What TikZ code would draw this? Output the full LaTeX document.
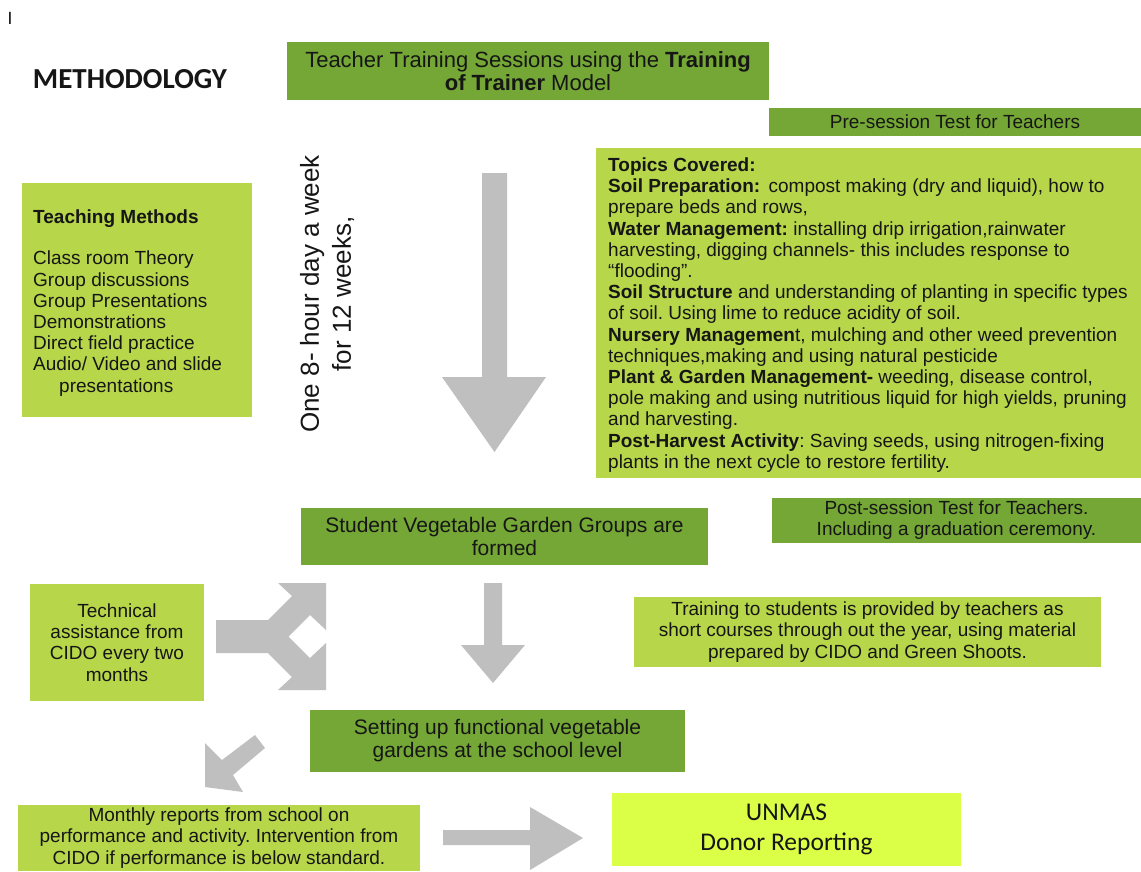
\documentclass[tikz,border=0pt]{standalone}
\usepackage{fontspec}
\setmainfont{Liberation Sans}
\newfontfamily\calibri{Carlito}
\definecolor{boxdark}{RGB}{116,167,53}
\definecolor{boxlight}{RGB}{183,214,74}
\definecolor{boxyellow}{RGB}{219,255,70}
\definecolor{arrowgrey}{RGB}{191,191,191}
\definecolor{ink}{RGB}{22,22,22}
\frenchspacing
\begin{document}
\begin{tikzpicture}[x=1pt,y=-1pt,
  box/.style={rectangle,inner sep=0pt,text=ink,align=center},
  darkbox/.style={box,fill=boxdark},
  lightbox/.style={box,fill=boxlight},
  yellowbox/.style={box,fill=boxyellow},
  txt/.style={font=\fontsize{19}{21.2}\selectfont},
  bigtxt/.style={font=\fontsize{21}{23}\selectfont},
  blockarrow/.style={fill=arrowgrey}]
\useasboundingbox (0,0) rectangle (1141,871);
\fill[white] (0,0) rectangle (1141,871);

% headings
\node[text=ink,font=\calibri\fontsize{19}{19}\selectfont,inner sep=0pt] (cursor) at (10,18) {I};
\node[text=ink,font=\calibri\bfseries\fontsize{29}{29}\selectfont,inner sep=0pt] (title) at (130,79.5) {METHODOLOGY};

% boxes
\node[darkbox,minimum width=482,minimum height=58,font=\fontsize{22}{23.5}\selectfont] (training) at (528,71)
  {Teacher Training Sessions using the \textbf{Training}\\\textbf{of Trainer} Model};
\node[darkbox,txt,minimum width=372,minimum height=28] (pretest) at (955,122) {Pre-session Test for Teachers};

\node[lightbox,minimum width=545,minimum height=330] (topics) at (868.5,313) {};
\node[txt,text=ink,align=left,anchor=west,inner sep=0pt] (topicstext) at (608,315) {%
\textbf{Topics Covered:}\\
\textbf{Soil Preparation:}\, compost making (dry and liquid), how to\\
prepare beds and rows,\\
\textbf{Water Management:} installing drip irrigation,rainwater\\
harvesting, digging channels- this includes response to\\
“flooding”.\\
\textbf{Soil Structure} and understanding of planting in specific types\\
of soil. Using lime to reduce acidity of soil.\\
\textbf{Nursery Managemen}t, mulching and other weed prevention\\
techniques,making and using natural pesticide\\
\textbf{Plant \& Garden Management-} weeding, disease control,\\
pole making and using nutritious liquid for high yields, pruning\\
and harvesting.\\
\textbf{Post-Harvest Activity}: Saving seeds, using nitrogen-fixing\\
plants in the next cycle to restore fertility.};

\node[lightbox,minimum width=230,minimum height=234] (methods) at (137,300) {};
\node[txt,text=ink,align=left,anchor=west,inner sep=0pt] (methodstext) at (33,303) {%
\textbf{Teaching Methods}\\[20pt]
Class room Theory\\
Group discussions\\
Group Presentations\\
Demonstrations\\
Direct field practice\\
Audio/ Video and slide\\
\hspace*{26pt}presentations};

\node[text=ink,rotate=90,align=center,inner sep=0pt,font=\fontsize{26}{32}\selectfont] (duration) at (327,294)
  {One 8- hour day a week\\for 12 weeks,};

\node[darkbox,txt,minimum width=369,minimum height=45] (posttest) at (956.5,520)
  {Post-session Test for Teachers.\\Including a graduation ceremony.};
\node[darkbox,bigtxt,minimum width=407,minimum height=57] (groups) at (504.5,536.5)
  {Student Vegetable Garden Groups are\\formed};
\node[lightbox,txt,minimum width=174,minimum height=117] (assist) at (117,642.5)
  {Technical\\assistance from\\CIDO every two\\months};
\node[lightbox,txt,minimum width=467,minimum height=70] (students) at (867.5,632)
  {Training to students is provided by teachers as\\short courses through out the year, using material\\prepared by CIDO and Green Shoots.};
\node[darkbox,bigtxt,minimum width=375,minimum height=62] (gardens) at (497.5,741)
  {Setting up functional vegetable\\gardens at the school level};
\node[lightbox,txt,minimum width=402,minimum height=66] (reports) at (219,838)
  {Monthly reports from school on\\performance and activity. Intervention from\\CIDO if performance is below standard.};
\node[yellowbox,minimum width=349,minimum height=73,font=\calibri\fontsize{25.5}{30}\selectfont] (donor) at (786.5,829.5)
  {UNMAS\\Donor Reporting};

% block arrows
\fill[blockarrow] (482,173) -- (507,173) -- (507,377) -- (546,377) -- (494.5,452)
  -- (442,377) -- (482,377) -- cycle;
\fill[blockarrow] (484,583) -- (502,583) -- (502,645) -- (525,645) -- (493,683)
  -- (461,645) -- (484,645) -- cycle;
\fill[blockarrow] (216,620) -- (268,620) -- (292,596) -- (278,583) -- (326,583)
  -- (326,630) -- (310,615) -- (288.5,636.5) -- (310,658) -- (326,643)
  -- (326,690) -- (278,690) -- (292,677) -- (268,653) -- (216,653) -- cycle;
\fill[blockarrow] (255,735) -- (222,760) -- (205,743) -- (205,787) -- (243,792)
  -- (233,775) -- (265,748) -- cycle;
\fill[blockarrow] (443,830) -- (530,830) -- (530,807) -- (583,838) -- (530,870)
  -- (530,845) -- (443,845) -- cycle;
\end{tikzpicture}
\end{document}
